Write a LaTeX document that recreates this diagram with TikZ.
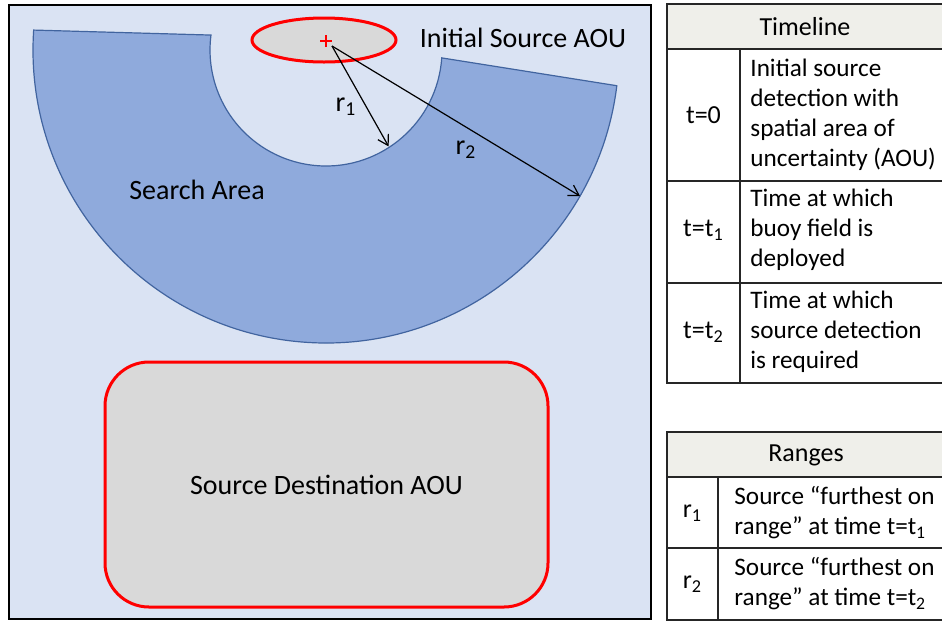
\documentclass[tikz,border=0pt]{standalone}
\usepackage{fontspec}
\setmainfont{Carlito}
\usetikzlibrary{arrows.meta,calc,positioning,shapes.geometric}
\definecolor{seaBlue}{HTML}{DAE3F3}
\definecolor{areaBlue}{HTML}{8FAADC}
\definecolor{areaEdge}{HTML}{41649F}
\definecolor{aouGrey}{HTML}{D9D9D9}
\definecolor{headGrey}{HTML}{EFEFEA}

\begin{document}
\begin{tikzpicture}[x=0.5pt,y=0.5pt,>={Straight Barb[length=5pt,width=6pt]},
  every node/.style={inner sep=0pt},
  lbl/.style={font=\fontsize{14}{16}\selectfont},
  cell/.style={font=\fontsize{12.6}{15}\selectfont,align=left,anchor=west},
  key/.style={font=\fontsize{13}{15}\selectfont},
  aou/.style={draw=red,line width=1.5pt,fill=aouGrey},
  grid/.style={line width=0.7pt,draw=black!85}]
\useasboundingbox (0,0) rectangle (942,-622);
\draw[line width=1.3pt,fill=seaBlue] (9,-5) rectangle (651,-619);
\coordinate (C) at (326,-50);
\draw[areaEdge,line width=0.6pt,fill=areaBlue] ($(C)+(176.1:293)$)
  arc[start angle=176.1,end angle=353,radius=293] -- ($(C)+(356.1:116)$)
  arc[start angle=356.1,end angle=172.6,radius=116] -- cycle;
\node[aou,ellipse,minimum width=72pt,minimum height=22pt] (init) at (324,-40) {};
\coordinate (plus) at (326,-41);
\draw[red,line width=1pt] ($(plus)+(-6,0)$) -- ($(plus)+(6,0)$) ($(plus)+(0,-6)$) -- ($(plus)+(0,6)$);
\coordinate (src) at (332,-46);
\coordinate (rin) at ($(C)+(-57:115)$);
\coordinate (rout) at ($(C)+(-29.9:293)$);
\draw[->,line width=0.6pt] (src) -- (rin);
\draw[->,line width=0.6pt] (src) -- (rout);
\node[lbl] (rone) at (346,-107) {r\textsubscript{1}};
\node[lbl] (rtwo) at (466,-150) {r\textsubscript{2}};
\node[lbl] (initlbl) at (523,-38) {Initial Source AOU};
\node[lbl] (search) at (197,-190) {Search Area};
\node[aou,lbl,rounded corners=22pt,minimum width=221.5pt,minimum height=122.5pt] (dest) at (326.5,-484.5) {Source Destination AOU};

\draw[grid,fill=headGrey] (667,-4) rectangle (943,-49);
\draw[grid] (667,-49) rectangle (943,-383);
\draw[grid] (740,-49) -- (740,-383) (667,-181) -- (943,-181) (667,-283) -- (943,-283);
\node[key] (tlhead) at (805,-27) {Timeline};
\node[key] (tzero) at (703.5,-115) {t=0};
\node[cell] (tzerotxt) at (750,-115) {Initial source\\detection with\\spatial area of\\uncertainty (AOU)};
\node[key] (tone) at (703.5,-230) {t=t\textsubscript{1}};
\node[cell] (tonetxt) at (750,-230) {Time at which\\buoy field is\\deployed};
\node[key] (ttwo) at (703.5,-332) {t=t\textsubscript{2}};
\node[cell] (ttwotxt) at (750,-332) {Time at which\\source detection\\is required};

\draw[grid,fill=headGrey] (667,-432) rectangle (943,-477);
\draw[grid] (667,-477) rectangle (943,-620);
\draw[grid] (718,-477) -- (718,-620) (667,-548) -- (943,-548);
\node[key] (rghead) at (806,-455) {Ranges};
\node[key] (rgone) at (692.5,-513) {r\textsubscript{1}};
\node[cell] (rgonetxt) at (734,-513) {Source “furthest on\\range” at time t=t\textsubscript{1}};
\node[key] (rgtwo) at (692.5,-584) {r\textsubscript{2}};
\node[cell] (rgtwotxt) at (734,-584) {Source “furthest on\\range” at time t=t\textsubscript{2}};
\end{tikzpicture}
\end{document}
